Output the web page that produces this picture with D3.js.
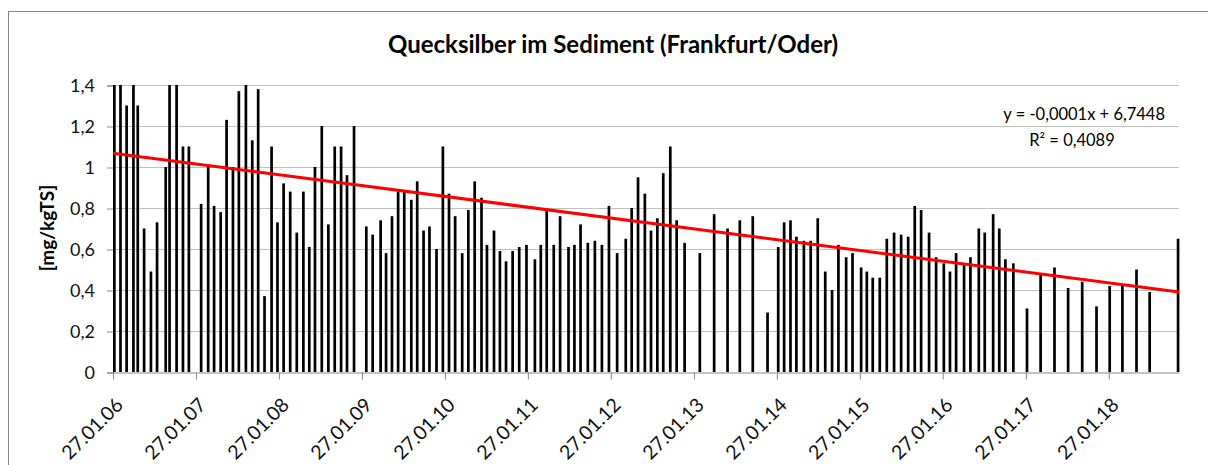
<!DOCTYPE html>
<html>
<head>
<meta charset="utf-8">
<script src="https://cdn.jsdelivr.net/npm/d3@7"></script>
<style>
    body { margin: 0; background: #fff; }
    text { font-family: Lato, "Open Sans", sans-serif; fill: #000; }
</style>
</head>
<body>
<div id="chart"></div>
<script>
// sampling dates (dd.mm.yy) and mercury in sediment [mg/kgTS]
var sampleDates = [
    "27.01.06", "23.02.06", "22.03.06", "21.04.06", "10.05.06", "07.06.06", "07.07.06", "03.08.06",
    "10.09.06", "27.09.06", "28.10.06", "25.11.06", "21.12.06",
    "13.02.07", "16.03.07", "11.04.07", "10.05.07", "05.06.07", "03.07.07", "29.07.07", "29.08.07",
    "26.09.07", "22.10.07", "19.11.07", "20.12.07", "15.01.08",
    "11.02.08", "11.03.08", "09.04.08", "08.05.08", "03.06.08", "28.06.08", "28.07.08", "26.08.08",
    "23.09.08", "21.10.08", "16.11.08", "17.12.08",
    "09.02.09", "09.03.09", "13.04.09", "07.05.09", "02.06.09", "29.06.09", "26.07.09", "26.08.09",
    "21.09.09", "19.10.09", "14.11.09", "15.12.09", "12.01.10",
    "08.02.10", "07.03.10", "07.04.10", "04.05.10", "01.06.10", "01.07.10", "25.07.10", "25.08.10",
    "20.09.10", "17.10.10", "15.11.10", "14.12.10", "15.01.11",
    "21.02.11", "19.03.11", "14.04.11", "15.05.11", "12.06.11", "19.07.11", "14.08.11", "10.09.11",
    "12.10.11", "12.11.11", "13.12.11", "13.01.12",
    "18.02.12", "27.03.12", "22.04.12", "20.05.12", "19.06.12", "16.07.12", "13.08.12", "08.09.12",
    "09.10.12", "06.11.12", "11.12.12",
    "16.02.13", "20.04.13", "18.06.13", "11.08.13", "07.10.13", "11.12.13",
    "27.01.14", "22.02.14", "22.03.14", "17.04.14", "20.05.14", "19.06.14", "20.07.14", "22.08.14",
    "21.09.14", "19.10.14", "22.11.14", "20.12.14",
    "27.01.15", "21.02.15", "19.03.15", "19.04.15", "20.05.15", "21.06.15", "22.07.15", "22.08.15",
    "20.09.15", "18.10.15", "22.11.15", "23.12.15",
    "26.01.16", "22.02.16", "20.03.16", "24.04.16", "22.05.16", "28.06.16", "24.07.16", "30.08.16",
    "26.09.16", "23.10.16", "27.11.16",
    "26.01.17", "27.03.17", "27.05.17", "26.07.17", "26.09.17", "28.11.17",
    "25.01.18", "22.03.18", "23.05.18", "20.07.18", "22.11.18"
];

var hgValues = [
    1.6, 1.55, 1.30, 1.65, 1.30, 0.70, 0.49, 0.73,
    1.00, 1.55, 1.7, 1.10, 1.10,
    0.82, 1.00, 0.81, 0.78, 1.23, 1.00, 1.37, 1.45,
    1.13, 1.38, 0.37, 1.10, 0.73,
    0.92, 0.88, 0.68, 0.88, 0.61, 1.00, 1.20, 0.72,
    1.10, 1.10, 0.96, 1.20,
    0.71, 0.67, 0.74, 0.58, 0.76, 0.88, 0.88, 0.84,
    0.93, 0.69, 0.71, 0.60, 1.10,
    0.87, 0.76, 0.58, 0.79, 0.93, 0.85, 0.62, 0.69,
    0.59, 0.54, 0.59, 0.61, 0.62,
    0.55, 0.62, 0.79, 0.62, 0.76, 0.61, 0.62, 0.72,
    0.63, 0.64, 0.62, 0.81,
    0.58, 0.65, 0.80, 0.95, 0.87, 0.69, 0.75, 0.97,
    1.10, 0.74, 0.63,
    0.58, 0.77, 0.70, 0.74, 0.76, 0.29,
    0.61, 0.73, 0.74, 0.66, 0.64, 0.64, 0.75, 0.49,
    0.40, 0.62, 0.56, 0.58,
    0.51, 0.49, 0.46, 0.46, 0.65, 0.68, 0.67, 0.66,
    0.81, 0.79, 0.68, 0.56,
    0.53, 0.49, 0.58, 0.53, 0.56, 0.70, 0.68, 0.77,
    0.70, 0.55, 0.53,
    0.31, 0.48, 0.51, 0.41, 0.44, 0.32,
    0.42, 0.42, 0.50, 0.39, 0.65
];

var yTickValues = [0, 0.2, 0.4, 0.6, 0.8, 1.0, 1.2, 1.4];
var xTickLabels = ["27.01.06", "27.01.07", "27.01.08", "27.01.09", "27.01.10", "27.01.11", "27.01.12",
    "27.01.13", "27.01.14", "27.01.15", "27.01.16", "27.01.17", "27.01.18"];

var chartTitle = "Quecksilber im Sediment (Frankfurt/Oder)";
var yAxisLabel = "[mg/kgTS]";
var trendText = ["y = -0,0001x + 6,7448", "R² = 0,4089"];

var width = 1208,
    height = 465;
var plot = { left: 113, right: 1179, top: 85, bottom: 372 };

var parseDate = d3.timeParse("%d.%m.%y");
var dates = sampleDates.map(parseDate);
var data = dates.map(function (d, i) { return { date: d, value: hgValues[i] }; });

var de = d3.formatLocale({ decimal: ",", thousands: ".", grouping: [3], currency: ["", " €"] });
var fmtY = de.format(".1~f");

var svg = d3.select("#chart")
    .append("svg")
    .attr("width", width)
    .attr("height", height);

// chart area border
svg.append("rect")
    .attr("x", 8.5)
    .attr("y", 11.5)
    .attr("width", 1220)
    .attr("height", 480)
    .style("fill", "none")
    .style("stroke", "#878787")
    .style("stroke-width", 1);

var x = d3.scaleTime()
    .domain([dates[0], d3.timeDay.offset(dates[dates.length - 1], 10)])
    .range([plot.left, plot.right]);

var y = d3.scaleLinear()
    .domain([0, 1.4])
    .range([plot.bottom, plot.top]);

// gridlines
svg.append("g")
    .selectAll("line")
    .data(yTickValues.slice(1))
    .enter()
    .append("line")
    .attr("x1", plot.left)
    .attr("x2", plot.right)
    .attr("y1", function (d) { return Math.round(y(d)) + 0.5; })
    .attr("y2", function (d) { return Math.round(y(d)) + 0.5; })
    .style("stroke", "#c0c0c0")
    .style("stroke-width", 1.2);

// y axis
var yAxis = svg.append("g")
    .attr("transform", "translate(" + plot.left + ",0.5)")
    .call(d3.axisLeft(y).tickValues(yTickValues).tickFormat(fmtY).tickSize(6).tickPadding(12));
yAxis.select(".domain").style("stroke", "#878787");
yAxis.selectAll(".tick line").style("stroke", "#878787");
yAxis.selectAll("text")
    .style("font-size", "18px")
    .style("font-family", "Lato, sans-serif")
    .style("fill", "#111");

// x axis
var xTickDates = xTickLabels.map(parseDate);
var xAxis = svg.append("g")
    .attr("transform", "translate(0," + (plot.bottom + 0.5) + ")")
    .call(d3.axisBottom(x).tickValues(xTickDates).tickFormat(d3.timeFormat("%d.%m.%y")).tickSize(7).tickSizeOuter(0));
xAxis.select(".domain").style("stroke", "#878787");
xAxis.selectAll(".tick line").style("stroke", "#878787");
xAxis.selectAll("text")
    .style("font-size", "19.5px")
    .style("font-family", "Lato, sans-serif")
    .style("fill", "#111")
    .style("text-anchor", "end")
    .attr("x", 0)
    .attr("y", 0)
    .attr("dy", "0.35em")
    .attr("transform", "translate(6,29) rotate(-45)");

// bars
svg.append("clipPath")
    .attr("id", "plotclip")
    .append("rect")
    .attr("x", plot.left)
    .attr("y", plot.top)
    .attr("width", plot.right - plot.left + 2)
    .attr("height", plot.bottom - plot.top);

svg.append("g")
    .attr("clip-path", "url(#plotclip)")
    .selectAll("rect")
    .data(data)
    .enter()
    .append("rect")
    .attr("x", function (d) { return x(d.date); })
    .attr("width", 2.7)
    .attr("y", function (d) { return y(d.value); })
    .attr("height", function (d) { return y(0) - y(d.value); })
    .style("fill", "#000");

// linear trend (least squares on days)
var dayMs = 86400000;
var xs = data.map(function (d) { return (d.date - dates[0]) / dayMs; });
var mx = d3.mean(xs), my = d3.mean(hgValues);
var sxy = d3.sum(xs, function (v, i) { return (v - mx) * (hgValues[i] - my); });
var sxx = d3.sum(xs, function (v) { return (v - mx) * (v - mx); });
var slope = sxy / sxx, intercept = my - slope * mx;

var xEnd = x.domain()[1];
var trend = [dates[0], xEnd].map(function (d) {
    var t = (d - dates[0]) / dayMs;
    return { date: d, value: intercept + slope * t };
});

svg.append("path")
    .datum(trend)
    .attr("d", d3.line()
        .x(function (d) { return x(d.date); })
        .y(function (d) { return y(d.value); }))
    .style("fill", "none")
    .style("stroke", "#ff0000")
    .style("stroke-width", 3);

// trend label
svg.append("text")
    .attr("x", 1165)
    .attr("y", 120)
    .style("text-anchor", "end")
    .style("font-size", "16.5px")
    .text(trendText[0]);
svg.append("text")
    .attr("x", 1072)
    .attr("y", 146)
    .style("text-anchor", "middle")
    .style("font-size", "16.5px")
    .text(trendText[1]);

// title
svg.append("text")
    .attr("x", 613)
    .attr("y", 53)
    .style("text-anchor", "middle")
    .style("font-size", "24px")
    .style("font-weight", "bold")
    .text(chartTitle);

// y axis label
svg.append("text")
    .attr("transform", "translate(47,228) rotate(-90)")
    .attr("dy", "0.35em")
    .style("text-anchor", "middle")
    .style("font-size", "19px")
    .style("font-weight", "bold")
    .text(yAxisLabel);
</script>
</body>
</html>
